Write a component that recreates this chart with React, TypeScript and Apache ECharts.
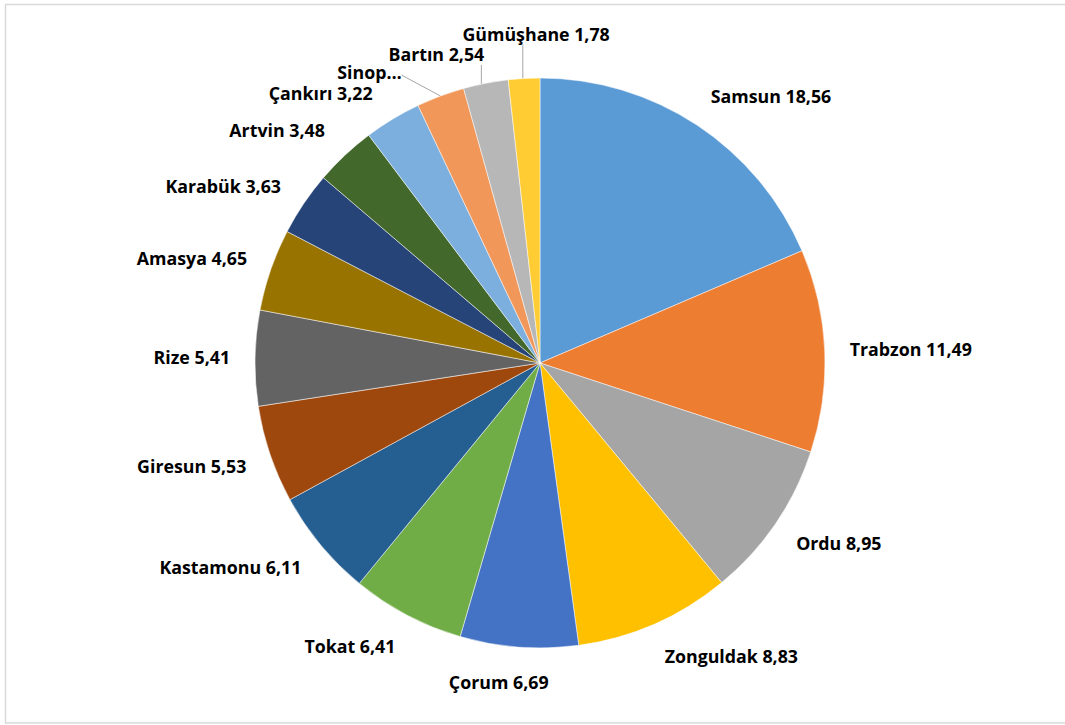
import React, { useEffect, useRef } from 'react';
import * as echarts from 'echarts';

const provinces = ['Samsun', 'Trabzon', 'Ordu', 'Zonguldak', 'Çorum', 'Tokat', 'Kastamonu', 'Giresun', 'Rize', 'Amasya', 'Karabük', 'Artvin', 'Çankırı', 'Sinop', 'Bartın', 'Gümüşhane'];
const shares = [18.56, 11.49, 8.95, 8.83, 6.69, 6.41, 6.11, 5.53, 5.41, 4.65, 3.63, 3.48, 3.22, 2.72, 2.54, 1.78];
const sliceColors = ['#5B9BD5', '#ED7D31', '#A5A5A5', '#FFC000', '#4472C4', '#70AD47', '#255E91', '#9E480E', '#636363', '#997300', '#264478', '#43682B', '#7CAFDD', '#F1975A', '#B7B7B7', '#FFCD33'];
const truncatedLabels: Record<string, string> = { Sinop: 'Sinop…' };

const CENTER: [number, number] = [540, 363];
const RADIUS = 285;
const GAP = 25;
const K = 5;

const labelNudges: Record<string, [number, number]> = {
  'Çankırı': [-7, 4],
  Artvin: [-3, 0],
  'Karabük': [-2, 2],
};

const leaderLabels: Record<string, { dx: number; dy: number; mode: 'side' | 'vertical'; frac?: number }> = {
  Sinop: { dx: -30, dy: 9, mode: 'side' },
  'Bartın': { dx: 1, dy: 5, mode: 'vertical', frac: 0.97 },
  'Gümüşhane': { dx: 34, dy: -10, mode: 'vertical', frac: 0.41 },
};

const fmt = (v: number) => v.toFixed(2).replace('.', ',');
const clamp = (v: number) => Math.max(-1, Math.min(1, v));

export default function App() {
  const ref = useRef<HTMLDivElement>(null);
  useEffect(() => {
    if (!ref.current) return;
    const chart = echarts.init(ref.current, null, { renderer: 'svg' });
    const total = shares.reduce((a, b) => a + b, 0);
    const data = provinces.map((name, i) => ({
      name,
      value: shares[i],
      itemStyle: { color: sliceColors[i] },
      labelLine: {
        show: true,
        lineStyle: { color: leaderLabels[name] ? '#A6A6A6' : 'rgba(0,0,0,0)', width: 1 },
      },
    }));
    chart.setOption({
      animation: false,
      backgroundColor: '#ffffff',
      graphic: [
        {
          type: 'rect',
          shape: { x: 5.5, y: 4.5, width: 1080, height: 718.5 },
          style: { fill: 'none', stroke: '#D9D9D9', lineWidth: 1.5 },
          silent: true,
        },
      ],
      series: [
        {
          type: 'pie',
          center: CENTER,
          radius: RADIUS,
          startAngle: 90,
          clockwise: true,
          avoidLabelOverlap: false,
          itemStyle: { borderColor: '#ffffff', borderWidth: 0.5 },
          label: {
            show: true,
            position: 'outside',
            fontFamily: '"Open Sans", Lato, sans-serif',
            fontWeight: 'bold',
            fontSize: 17.8,
            lineHeight: 20,
            color: '#000000',
            formatter: (p: any) => truncatedLabels[p.name] ?? `${p.name} ${fmt(p.value)}`,
          },
          labelLine: { show: true, length: 10, length2: 10 },
          labelLayout: (params: any) => {
            const i = params.dataIndex;
            let cum = 0;
            for (let j = 0; j < i; j++) cum += shares[j];
            const mid = ((cum + shares[i] / 2) / total) * Math.PI * 2;
            const ux = Math.sin(mid);
            const uy = -Math.cos(mid);
            const px0 = CENTER[0] + RADIUS * ux;
            const py0 = CENTER[1] + RADIUS * uy;
            const w = params.labelRect.width;
            const h = params.labelRect.height;
            const Px = px0 + ux * GAP;
            const Py = py0 + uy * GAP;
            let cx = Px + (w / 2) * clamp(K * ux);
            let cy = Py + (h / 2) * uy;
            const lead = leaderLabels[provinces[i]];
            if (!lead) {
              const n = labelNudges[provinces[i]] ?? [0, 0];
              return { x: cx + n[0], y: cy + n[1], align: 'center', verticalAlign: 'middle' };
            }
            cx += lead.dx;
            cy += lead.dy;
            let linePts: number[][];
            if (lead.mode === 'side') {
              linePts = [[px0, py0], [cx + w / 2, cy + 3], [cx + w / 2, cy + 3]];
            } else {
              const lx = cx - w / 2 + (lead.frac ?? 0.5) * w;
              const ly = CENTER[1] - Math.sqrt(Math.max(0, RADIUS * RADIUS - (lx - CENTER[0]) * (lx - CENTER[0])));
              linePts = [[lx, ly], [lx, cy + h / 2 + 1], [lx, cy + h / 2 + 1]];
            }
            return { x: cx, y: cy, align: 'center', verticalAlign: 'middle', labelLinePoints: linePts };
          },
          data,
        },
      ],
    });
    return () => chart.dispose();
  }, []);
  return <div ref={ref} style={{ position: 'fixed', left: 0, top: 0, width: 1065, height: 725 }} />;
}
